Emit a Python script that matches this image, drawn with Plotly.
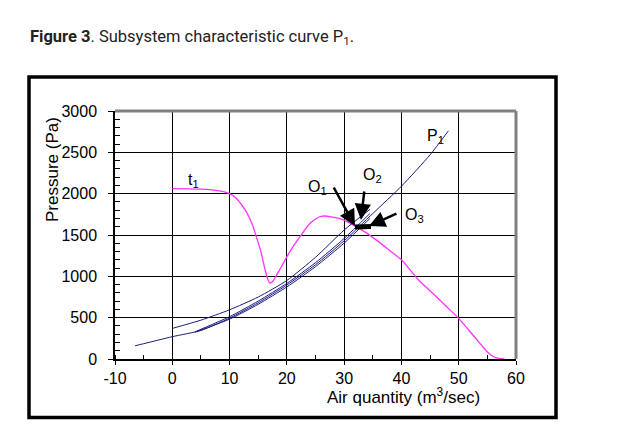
import plotly.graph_objects as go

# ---- data ----
fan_q = [0, 3, 5, 7, 8.5, 10, 11, 12, 13, 14, 14.8, 15.5, 16.2, 16.7, 17.05, 17.5, 18, 19, 19.7, 21, 22.3, 24, 25.5, 26.5, 28, 30, 32, 34, 36, 38, 40, 43, 46, 48, 50, 52, 54, 55, 56, 57, 58]
fan_p = [2060, 2058, 2055, 2045, 2030, 2000, 1955, 1875, 1770, 1620, 1450, 1290, 1080, 960, 920, 935, 990, 1110, 1200, 1350, 1480, 1640, 1715, 1730, 1715, 1680, 1605, 1520, 1420, 1310, 1200, 956, 760, 625, 492, 330, 165, 85, 30, 6, 0]

p1_q = [-6.5, -5, 0, 5, 10, 15, 20, 25, 30, 35, 40, 45, 48.2]
p1_p = [160, 185, 270, 345, 495, 680, 895, 1140, 1430, 1760, 2090, 2470, 2760]

a_q = [0, 5, 10, 15, 20, 25, 30, 34.5]
a_p = [370, 470, 595, 750, 950, 1230, 1560, 1810]

c_q = [4, 10, 15, 20, 25, 30, 34.5]
c_p = [330, 512, 700, 915, 1165, 1458, 1760]

d_q = [4, 10, 15, 20, 25, 30, 34.5]
d_p = [325, 482, 662, 872, 1117, 1402, 1700]

x_ticks = [-10, 0, 10, 20, 30, 40, 50, 60]
y_ticks = [0, 500, 1000, 1500, 2000, 2500, 3000]

NAVY = "#1c1c7c"
MAG = "#ff33ff"

fig = go.Figure()
fig.add_trace(go.Scatter(x=fan_q, y=fan_p, mode="lines", line=dict(color=MAG, width=1.3, shape="spline", smoothing=0.5), hoverinfo="skip"))
for q, p in [(p1_q, p1_p), (a_q, a_p), (c_q, c_p), (d_q, d_p)]:
    fig.add_trace(go.Scatter(x=q, y=p, mode="lines", line=dict(color=NAVY, width=1, shape="spline", smoothing=0.6), hoverinfo="skip"))

FONT = "Liberation Sans, Arial, sans-serif"

def px2x(px):
    return (px - 172.3) / 5.73

def py2y(py):
    return (359 - py) / 0.08267

labels = [
    ("t<sub>1</sub>", 186, 180),
    ("P<sub>1</sub>", 425, 136),
    ("O<sub>1</sub>", 306, 187),
    ("O<sub>2</sub>", 361, 175),
    ("O<sub>3</sub>", 403, 215),
]
for txt, px, py in labels:
    fig.add_annotation(x=px2x(px), y=py2y(py), text=txt, showarrow=False, xanchor="left", yanchor="middle",
                       font=dict(family=FONT, size=16, color="black"))

arrows = [
    ((333, 186), (355, 226)),
    ((364.5, 190), (361, 220)),
    ((398, 213), (369, 226)),
]
for (tx, ty), (hx, hy) in arrows:
    fig.add_annotation(x=px2x(hx), y=py2y(hy), ax=px2x(tx), ay=py2y(ty), axref="x", ayref="y", xref="x", yref="y",
                       text="", showarrow=True, arrowhead=2, arrowsize=1.3, arrowwidth=2.5, arrowcolor="black")

# thick blob joining the operating points
fig.add_shape(type="line", x0=px2x(355), y0=py2y(227), x1=px2x(371), y1=py2y(226.5), line=dict(color="black", width=5))

# plot frame (gray top/right)
fig.add_shape(type="line", xref="paper", yref="paper", x0=0, y0=1, x1=1, y1=1, line=dict(color="#808080", width=3))
fig.add_shape(type="line", xref="paper", yref="paper", x0=1, y0=0, x1=1, y1=1, line=dict(color="#808080", width=3))

# outer black box
W, H = 631, 424
L, R, T, B = 115, 516, 111, 359
def pxp(px):
    return (px - L) / (R - L)
def pyp(py):
    return (B - py) / (B - T)
fig.add_shape(type="rect", xref="paper", yref="paper", x0=pxp(29), y0=pyp(417.5), x1=pxp(556), y1=pyp(77),
              line=dict(color="black", width=3.5), fillcolor="rgba(0,0,0,0)")

# title
fig.add_annotation(xref="paper", yref="paper", x=pxp(28), y=pyp(38), xanchor="left", yanchor="middle", showarrow=False,
                   text="<b>Figure 3</b>. Subsystem characteristic curve P<sub>1</sub>.",
                   font=dict(family="Roboto, sans-serif", size=16.5, color="#222222"))

# axis titles
fig.add_annotation(xref="paper", yref="paper", x=pxp(52), y=pyp(169), text="Pressure (Pa)", textangle=-90, showarrow=False,
                   xanchor="center", yanchor="middle", font=dict(family=FONT, size=17, color="black"))
fig.add_annotation(xref="paper", yref="paper", x=pxp(403), y=pyp(396), text="Air quantity (m<sup>3</sup>/sec)", showarrow=False,
                   xanchor="center", yanchor="middle", font=dict(family=FONT, size=17, color="black"))

fig.update_layout(
    width=W, height=H,
    margin=dict(l=L, r=W - R, t=T, b=H - B, pad=0),
    paper_bgcolor="white", plot_bgcolor="white",
    showlegend=False,
    font=dict(family=FONT, size=16, color="black"),
)
fig.update_xaxes(range=[-10, 60], tickvals=x_ticks, ticktext=[str(v) for v in x_ticks],
                 showgrid=True, gridcolor="black", gridwidth=1, zeroline=False,
                 showline=True, linecolor="black", linewidth=1.5,
                 ticks="outside", ticklen=4, tickcolor="black", tickwidth=1, ticklabelstandoff=0,
                 minor=dict(dtick=5, ticks="inside", ticklen=4, tickcolor="black", showgrid=False),
                 tickfont=dict(size=16))
fig.update_yaxes(range=[0, 3000], tickvals=y_ticks, ticktext=[str(v) for v in y_ticks],
                 showgrid=True, gridcolor="black", gridwidth=1, zeroline=False,
                 showline=True, linecolor="black", linewidth=1.5,
                 ticks="outside", ticklen=5, tickcolor="black", tickwidth=1, ticklabelstandoff=8,
                 minor=dict(dtick=100, ticks="inside", ticklen=5, tickcolor="black", showgrid=False),
                 tickfont=dict(size=16))

fig.write_html("out.html")
